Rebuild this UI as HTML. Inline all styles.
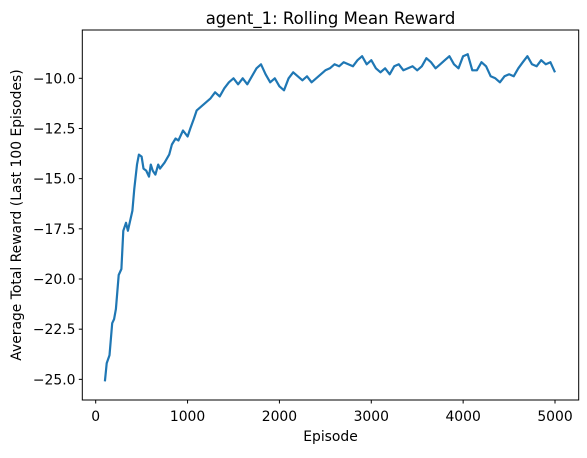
<!DOCTYPE html>
<html><head><meta charset="utf-8"><style>
body{margin:0;background:#fff;}
svg text{font-family:"DejaVu Sans","Liberation Sans",sans-serif;fill:#000;}
</style></head><body>
<svg width="587" height="453" viewBox="0 0 587 453" id="chart">
<rect x="0" y="0" width="587" height="453" fill="#fff"/>
<text x="330.5" y="24" font-size="16.5" text-anchor="middle">agent_1: Rolling Mean Reward</text>
<g id="plot"></g>
<rect x="82.3" y="30" width="496.4" height="370" fill="none" stroke="#000" stroke-width="1"/>
<text x="330.5" y="441" font-size="13.9" text-anchor="middle">Episode</text>
<text x="0" y="0" font-size="13.9" text-anchor="middle" transform="translate(21,215) rotate(-90)">Average Total Reward (Last 100 Episodes)</text>
</svg>
<script>
const episodes=[100,120,150,180,200,220,250,280,300,330,350,380,400,420,450,470,500,520,550,580,600,620,650,680,700,750,800,830,870,900,950,1000,1030,1070,1100,1150,1200,1250,1300,1350,1400,1450,1500,1550,1600,1650,1700,1750,1800,1850,1900,1950,2000,2050,2100,2150,2200,2250,2300,2350,2400,2450,2500,2550,2600,2650,2700,2750,2800,2850,2900,2950,3000,3050,3100,3150,3200,3250,3300,3350,3400,3450,3500,3550,3600,3650,3700,3750,3800,3850,3900,3950,4000,4050,4100,4150,4200,4250,4300,4350,4400,4450,4500,4550,4600,4650,4700,4750,4800,4850,4900,4950,5000];
const rewards=[-25.1,-24.2,-23.8,-22.2,-22.0,-21.5,-19.8,-19.5,-17.6,-17.2,-17.6,-17.0,-16.6,-15.5,-14.3,-13.8,-13.9,-14.5,-14.6,-14.9,-14.3,-14.6,-14.8,-14.3,-14.5,-14.2,-13.8,-13.3,-13.0,-13.1,-12.6,-12.9,-12.5,-12.0,-11.6,-11.4,-11.2,-11.0,-10.7,-10.9,-10.5,-10.2,-10.0,-10.3,-10.0,-10.3,-9.9,-9.5,-9.3,-9.8,-10.2,-10.0,-10.4,-10.6,-10.0,-9.7,-9.9,-10.1,-9.9,-10.2,-10.0,-9.8,-9.6,-9.5,-9.3,-9.4,-9.2,-9.3,-9.4,-9.1,-8.9,-9.3,-9.1,-9.5,-9.7,-9.5,-9.8,-9.4,-9.3,-9.6,-9.5,-9.4,-9.6,-9.4,-9.0,-9.2,-9.5,-9.3,-9.1,-8.9,-9.3,-9.5,-8.9,-8.8,-9.6,-9.6,-9.2,-9.4,-9.9,-10.0,-10.2,-9.9,-9.8,-9.9,-9.5,-9.2,-8.9,-9.3,-9.4,-9.1,-9.3,-9.2,-9.7];
const xTicks=[0,1000,2000,3000,4000,5000];
const yTicks=[-25,-22.5,-20,-17.5,-15,-12.5,-10];
const yTickLabels=["−25.0","−22.5","−20.0","−17.5","−15.0","−12.5","−10.0"];
const NS="http://www.w3.org/2000/svg";
const xs=v=>95.7+(v/1000)*91.86;
const ys=v=>78.3+(-10-v)*20.07;
const g=document.getElementById('plot');
xTicks.forEach(t=>{
  const l=document.createElementNS(NS,'line');
  l.setAttribute('x1',xs(t));l.setAttribute('x2',xs(t));l.setAttribute('y1',400);l.setAttribute('y2',403.5);l.setAttribute('stroke','#000');
  
  
  g.appendChild(l);
  const tx=document.createElementNS(NS,'text');
  tx.setAttribute('x',xs(t));tx.setAttribute('y',421);tx.setAttribute('font-size','13.9');tx.setAttribute('text-anchor','middle');
  tx.textContent=String(t);
  
  
  g.appendChild(tx);
});
yTicks.forEach((t,i)=>{
  const l=document.createElementNS(NS,'line');
  l.setAttribute('x1',78.8);l.setAttribute('x2',82.3);l.setAttribute('y1',ys(t));l.setAttribute('y2',ys(t));l.setAttribute('stroke','#000');
  
  
  g.appendChild(l);
  const tx=document.createElementNS(NS,'text');
  tx.setAttribute('x',75.5);tx.setAttribute('y',ys(t)+5);tx.setAttribute('font-size','13.9');tx.setAttribute('text-anchor','end');
  tx.textContent=yTickLabels[i];
  
  
  g.appendChild(tx);
});
const p=document.createElementNS(NS,'polyline');
p.setAttribute('points',episodes.map((e,i)=>xs(e).toFixed(1)+','+ys(rewards[i]).toFixed(1)).join(' '));
p.setAttribute('fill','none');p.setAttribute('stroke','#1f77b4');p.setAttribute('stroke-width','2.2');p.setAttribute('stroke-linejoin','round');


g.appendChild(p);
</script>
</body></html>
